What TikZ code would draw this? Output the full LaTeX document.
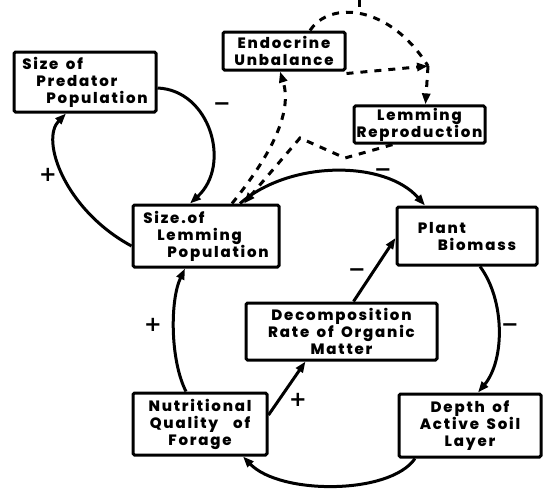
\documentclass[tikz,border=0pt]{standalone}
\usepackage{fontspec}
\newfontfamily\boxfont{Poppins ExtraBold}[LetterSpace=12,WordSpace=1.6]
\newfontfamily\signfont{DejaVu Sans Bold}
\usetikzlibrary{arrows.meta}
\begin{document}
\begin{tikzpicture}[x=1pt,y=-1pt,
  box/.style={draw,line width=3pt,rounded corners=1.5pt,inner sep=2pt,
    font=\boxfont\fontsize{15}{17}\selectfont},
  arr/.style={line width=3pt,-{Triangle[length=11pt,width=8pt]}},
  darr/.style={line width=3pt,dash pattern=on 7pt off 7pt,-{Triangle[length=11pt,width=8pt]}},
  dline/.style={line width=3pt,dash pattern=on 7pt off 7pt},
  sign/.style={font=\signfont\fontsize{21}{21}\selectfont,inner sep=0pt}]
\useasboundingbox (0,0) rectangle (544,496);
% boxes
\node[box,minimum width=142pt,minimum height=60pt,align=left] (pred) at (85,82)
  {Size of\\\hspace*{14pt}Predator\\\hspace*{24pt}Population};
\node[box,minimum width=122pt,minimum height=38pt,align=center] (endo) at (284,51)
  {Endocrine\\Unbalance};
\node[box,minimum width=131pt,minimum height=37pt,align=center] (repro) at (419.5,124.5)
  {Lemming\\Reproduction};
\node[box,minimum width=146pt,minimum height=62pt,align=left] (lem) at (206,236)
  {Size.of\\\hspace*{14pt}Lemming\\\hspace*{24pt}Population};
\node[box,minimum width=140pt,minimum height=58pt,align=left] (plant) at (467,236)
  {Plant\\\hspace*{20pt}Biomass};
\node[box,minimum width=191pt,minimum height=57pt,align=center] (decomp) at (341.5,331.5)
  {Decomposition\\Rate of Organic\\Matter};
\node[box,minimum width=134pt,minimum height=62pt,align=center] (nutr) at (200,424)
  {Nutritional\\Quality\ \ of\\Forage};
\node[box,minimum width=142pt,minimum height=63pt,align=center] (depth) at (470,425.5)
  {Depth of\\Active Soil\\Layer};
% solid connectors
\draw[arr] ([yshift=-6pt]pred.east) .. controls (210,90) and (232,165) .. ([xshift=-16pt]lem.north);
\draw[arr] ([yshift=-10pt]lem.west) .. controls (65,210) and (40,140) .. ([xshift=-19pt]pred.south);
\draw[arr] ([xshift=34pt]lem.north) .. controls (290,160) and (385,160) .. ([xshift=-42pt]plant.north);
\draw[arr] ([xshift=13pt]plant.south) .. controls (505,300) and (505,360) .. ([xshift=8pt]depth.north);
\draw[arr] ([xshift=-55pt]depth.south) .. controls (390,495) and (280,495) .. ([xshift=43pt]nutr.south);
\draw[arr] ([xshift=-14pt]nutr.north) .. controls (170,360) and (170,300) .. ([xshift=-21pt]lem.south);
\draw[arr] ([yshift=9pt]nutr.east) -- ([xshift=-36pt]decomp.south);
\draw[arr] ([xshift=12pt]decomp.north) -- ([yshift=-2pt]plant.west);
% dashed connectors
\coordinate (junc) at (428,66);
\coordinate (peak) at (300,138);
\coordinate (top) at (359,0);
\draw[darr] ([xshift=26pt]lem.north) .. controls (275,150) and (292,110) .. ([xshift=-4pt]endo.south);
\draw[darr] ([xshift=-27pt]repro.south) -- (345,158) -- (peak) -- ([xshift=38pt]lem.north);
\draw[dline] ([xshift=26pt]endo.north) .. controls (330,0) and (390,5) .. (junc);
\draw[dline] (top) -- ++(0,10);
\draw[darr] ([yshift=-2pt]endo.south east) -- (junc);
\draw[darr] (junc) -- ([xshift=6pt]repro.north);
% signs
\node[sign] (s1) at (222,107) {−};
\node[sign] (s2) at (48,175) {+};
\node[sign] (s3) at (383,173) {−};
\node[sign] (s4) at (510,328) {−};
\node[sign] (s5) at (357,273) {−};
\node[sign] (s6) at (298,400) {+};
\node[sign] (s7) at (153,325) {+};
\end{tikzpicture}
\end{document}
